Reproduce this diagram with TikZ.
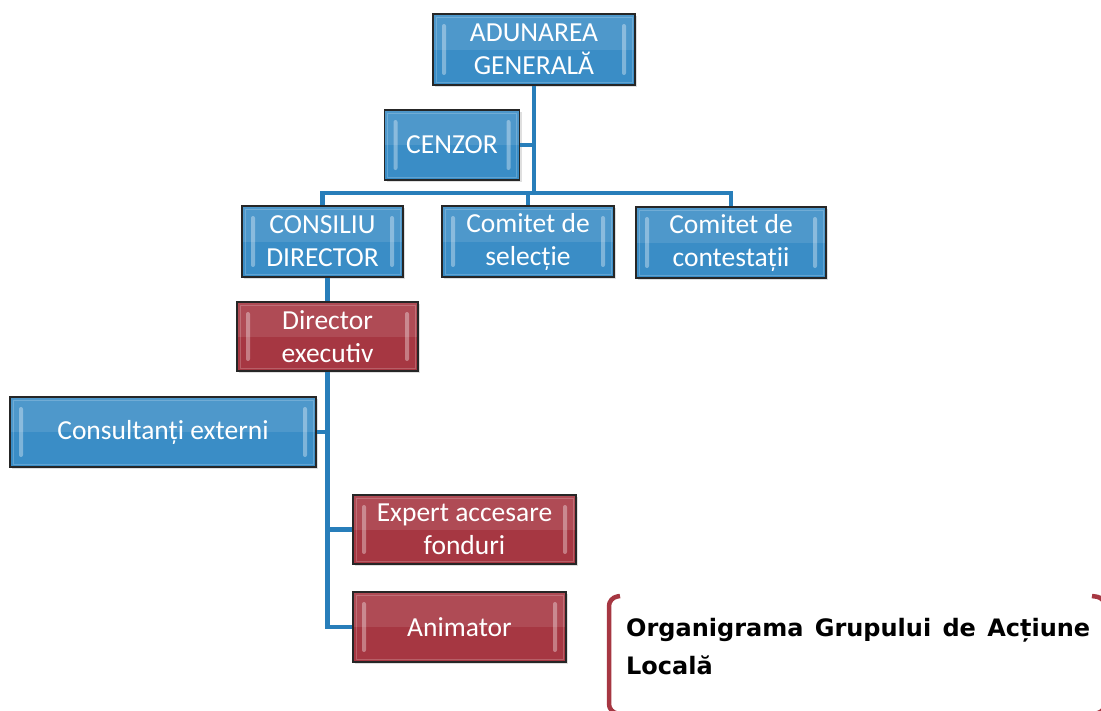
\documentclass[tikz,border=0pt]{standalone}
\usepackage{fontspec}
\newfontfamily\boxfont{Carlito}
\newfontfamily\capfont{DejaVu Sans}
\usetikzlibrary{shadows}
\definecolor{gablue}{RGB}{58,141,198}
\definecolor{gared}{RGB}{166,55,66}
\definecolor{galine}{RGB}{40,126,186}
\begin{document}
\begin{tikzpicture}[x=1pt, y=1pt,
    unit/.style={draw=black!85, line width=1.6pt, text=white, align=center, inner sep=0pt,
        font=\boxfont\fontsize{27.5}{33}\selectfont,
        drop shadow={opacity=0.25, shadow xshift=2pt, shadow yshift=-2pt},
        path picture={
            \fill[white, opacity=0.10] (path picture bounding box.north west) rectangle (path picture bounding box.east);
            \fill[white, opacity=0.35, rounded corners=2pt] ([shift={(9pt,-10pt)}]path picture bounding box.north west) rectangle ([shift={(13pt,10pt)}]path picture bounding box.south west);
            \fill[white, opacity=0.35, rounded corners=2pt] ([shift={(-13pt,-10pt)}]path picture bounding box.north east) rectangle ([shift={(-9pt,10pt)}]path picture bounding box.south east);
            \draw[white, opacity=0.2, line width=1pt] ([shift={(3pt,-3pt)}]path picture bounding box.north west) rectangle ([shift={(-3pt,3pt)}]path picture bounding box.south east);
        }},
    blueunit/.style={unit, fill=gablue},
    redunit/.style={unit, fill=gared},
    link/.style={galine, line width=4.5pt}]
    \useasboundingbox (0,0) rectangle (1101,-710);

    %Nodes
    \node[blueunit, minimum width=202pt, minimum height=71pt] at (534, -49.5) (adunare) {ADUNAREA\\GENERALĂ};
    \node[blueunit, minimum width=135pt, minimum height=70pt] at (452, -145) (cenzor) {CENZOR};
    \node[blueunit, minimum width=161pt, minimum height=71pt] at (322.5, -241.5) (consiliu) {CONSILIU\\DIRECTOR};
    \node[blueunit, minimum width=172pt, minimum height=71pt] at (528, -241.5) (selectie) {Comitet de\\selecție};
    \node[blueunit, minimum width=190pt, minimum height=71pt] at (731, -242.5) (contestatii) {Comitet de\\contestații};
    \node[redunit, minimum width=181pt, minimum height=69pt] at (327.5, -336.5) (director) {Director\\executiv};
    \node[blueunit, minimum width=306pt, minimum height=70pt] at (163, -432) (consultanti) {Consultanți externi};
    \node[redunit, minimum width=223pt, minimum height=69pt] at (464.5, -529.5) (expert) {Expert accesare\\fonduri};
    \node[redunit, minimum width=213pt, minimum height=70pt] at (459.5, -627) (animator) {Animator};

    \node[font=\capfont\bfseries\fontsize{24}{38}\selectfont, align=left,
        anchor=north west, inner sep=0pt] at (626, -618.5) (caption)
        {\makebox[464pt][s]{Organigrama Grupului de Acțiune}\\Locală};

    %Lines
    \coordinate (fork) at (534, -193);
    \draw[link] (adunare.south) -- (fork);
    \draw[link] (cenzor.east) -- (cenzor.east -| fork);
    \draw[link] (consiliu.north) |- (fork) -| (contestatii.north);
    \draw[link] (selectie.north) -- (selectie.north |- fork);
    \draw[link] (director.north |- consiliu.south) -- (director.north);
    \draw[link] (director.south) |- (animator.west);
    \draw[link] (consultanti.east) -- (consultanti.east -| director.south);
    \draw[link] (expert.west) -- (expert.west -| director.south);

    %Brackets
    \draw[gared, line width=4.5pt, rounded corners=8pt] (620, -596) -- (609, -598) -- (609, -712) -- (620, -714);
    \draw[gared, line width=4.5pt, rounded corners=8pt] (1092, -596) -- (1105, -598) -- (1105, -712) -- (1092, -714);

\end{tikzpicture}
\end{document}
